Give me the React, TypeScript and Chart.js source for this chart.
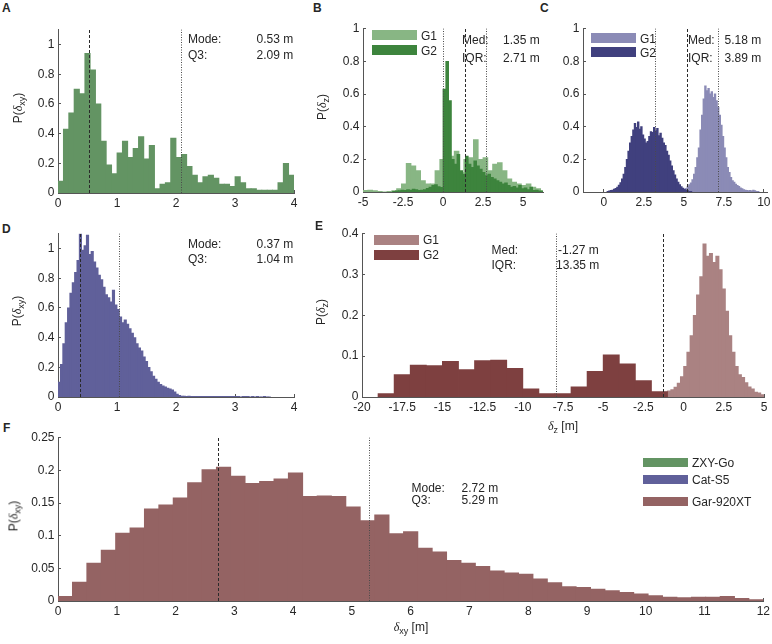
import React, { useEffect, useRef } from "react";
import { Chart, registerables } from "chart.js";

Chart.register(...registerables);

const FONT_FAMILY = "'Liberation Sans', Arial, Helvetica, sans-serif";
const TEXT_COLOR = "#262626";
const AXIS_COLOR = "#555555";

// ---------------- Panel A (ZXY-Go, horizontal error) ----------------
const A_BIN_START = 0;
const A_BIN_WIDTH = 4 / 44;
const A_VALUES = [
  0.08, 0.43, 0.54, 0.70, 0.67, 0.94, 0.83, 0.60, 0.35, 0.19, 0.13,
  0.27, 0.35, 0.24, 0.30, 0.38, 0.23, 0.32, 0.03, 0.06, 0.07, 0.37,
  0.24, 0.26, 0.18, 0.12, 0.07, 0.11, 0.12, 0.10, 0.06, 0.06, 0.045,
  0.11, 0.07, 0.03, 0.03, 0.02, 0.02, 0.02, 0.02, 0.07, 0.20, 0.12,
];
const A_X_TICKS = [0, 1, 2, 3, 4];
const A_Y_TICKS = [0, 0.2, 0.4, 0.6, 0.8, 1];
const A_MODE = 0.53;
const A_Q3 = 2.09;

// ---------------- Panel B (ZXY-Go, vertical error) ----------------
const B_G1_START = -5;
const B_G1_WIDTH = 0.3;
const B_G1_VALUES = [
  0.010, 0.012, 0.008, 0.003, 0.000, 0.002, 0.008, 0.020, 0.050, 0.175,
  0.160, 0.130, 0.070, 0.050, 0.050, 0.130, 0.200, 0.180, 0.220, 0.250,
  0.120, 0.200, 0.210, 0.320, 0.200, 0.210, 0.130, 0.170, 0.180, 0.130,
  0.080, 0.060, 0.050, 0.040, 0.050, 0.030, 0.020, 0.010,
];
const B_G2_START = -3.15;
const B_G2_WIDTH = 0.175;
const B_G2_VALUES = [
  0.004, 0.006, 0.008, 0.012, 0.010, 0.015, 0.012, 0.018, 0.014, 0.010,
  0.012, 0.015, 0.022, 0.030, 0.040, 0.045, 0.032, 0.028,
  0.630, 0.800, 0.560, 0.200, 0.170, 0.230, 0.130, 0.110, 0.220, 0.170,
  0.150, 0.190, 0.160, 0.140, 0.120, 0.100, 0.110, 0.090, 0.080, 0.070,
  0.060, 0.050, 0.055, 0.040, 0.030, 0.035, 0.025, 0.040, 0.020, 0.025,
  0.015, 0.030, 0.010, 0.012, 0.006, 0.004,
];
const B_X_TICKS = [-5, -2.5, 0, 2.5, 5];
const B_Y_TICKS = [0, 0.2, 0.4, 0.6, 0.8, 1];
const B_Q1 = 0.0;
const B_MED = 1.35;
const B_Q3 = 2.71;

// ---------------- Panel C (Cat-S5, vertical error) ----------------
const C_G1_START = 4.9;
const C_G1_WIDTH = 0.1;
const C_G1_VALUES = [
  0.004, 0.010, 0.020, 0.032, 0.045, 0.055, 0.075, 0.110, 0.150, 0.210,
  0.270, 0.380, 0.470, 0.570, 0.650, 0.620, 0.635, 0.600, 0.615, 0.580,
  0.600, 0.560, 0.520, 0.470, 0.410, 0.340, 0.270, 0.210, 0.150, 0.120,
  0.090, 0.070, 0.060, 0.048, 0.040, 0.034, 0.025, 0.020, 0.015, 0.012,
  0.010, 0.008, 0.010, 0.006, 0.012, 0.008, 0.004, 0.003,
];
const C_G2_START = 0.2;
const C_G2_WIDTH = 0.1;
const C_G2_VALUES = [
  0.003, 0.006, 0.010, 0.012, 0.018, 0.022, 0.030, 0.042, 0.058, 0.080,
  0.110, 0.150, 0.200, 0.250, 0.300, 0.340, 0.380, 0.420, 0.395, 0.430,
  0.385, 0.400, 0.350, 0.325, 0.300, 0.310, 0.340, 0.370, 0.365, 0.395,
  0.375, 0.390, 0.345, 0.360, 0.330, 0.300, 0.285, 0.250, 0.225, 0.190,
  0.160, 0.130, 0.105, 0.080, 0.060, 0.045, 0.032, 0.024, 0.018, 0.012,
  0.008, 0.004, 0.002,
];
const C_X_TICKS = [0, 2.5, 5, 7.5, 10];
const C_Y_TICKS = [0, 0.2, 0.4, 0.6, 0.8, 1];
const C_Q1 = 3.23;
const C_MED = 5.18;
const C_Q3 = 7.12;

// ---------------- Panel D (Cat-S5, horizontal error) ----------------
const D_BIN_START = 0;
const D_BIN_WIDTH = 0.04;
const D_VALUES = [
  0.10, 0.22, 0.36, 0.50, 0.60, 0.70, 0.77, 0.84, 0.92, 1.10,
  0.99, 1.02, 1.09, 0.96, 0.98, 0.91, 0.87, 0.82, 0.79, 0.74,
  0.69, 0.67, 0.64, 0.72, 0.62, 0.59, 0.54, 0.50, 0.52, 0.49,
  0.46, 0.43, 0.40, 0.36, 0.33, 0.31, 0.27, 0.24, 0.20, 0.17,
  0.14, 0.12, 0.10, 0.085, 0.075, 0.068, 0.060, 0.055, 0.048, 0.035,
  0.020, 0.010, 0.006, 0.005, 0.004, 0.005, 0.003, 0.004, 0.003, 0.003,
  0.002, 0.003, 0.002, 0.002, 0.001, 0.002, 0.003, 0.001, 0.002, 0.001,
  0.002, 0.001, 0.003, 0.001, 0.001, 0.002, 0.001, 0.000, 0.001, 0.002,
  0.001, 0.000, 0.001, 0.000, 0.001, 0.000, 0.000, 0.001, 0.000, 0.000,
];
const D_X_TICKS = [0, 1, 2, 3, 4];
const D_Y_TICKS = [0, 0.2, 0.4, 0.6, 0.8, 1];
const D_MODE = 0.37;
const D_Q3 = 1.04;

// ---------------- Panel E (Gar-920XT, vertical error) ----------------
const E_G1_START = -3.6;
const E_G1_WIDTH = 0.2;
const E_G1_VALUES = [
  0.003, 0.004, 0.005, 0.004, 0.006, 0.005, 0.007, 0.006, 0.007, 0.008,
  0.010, 0.011, 0.012, 0.015, 0.018, 0.024, 0.034, 0.050, 0.075, 0.110,
  0.150, 0.200, 0.250, 0.295, 0.375, 0.345, 0.352, 0.330, 0.345, 0.312,
  0.265, 0.210, 0.150, 0.110, 0.075, 0.055, 0.048, 0.035, 0.025, 0.020,
  0.012, 0.010, 0.006,
];
const E_G2_START = -19;
const E_G2_WIDTH = 1;
const E_G2_VALUES = [
  0.008, 0.055, 0.078, 0.077, 0.087, 0.067, 0.089, 0.090, 0.070, 0.020,
  0.008, 0.008, 0.025, 0.063, 0.103, 0.081, 0.040, 0.013,
];
const E_X_TICKS = [-20, -17.5, -15, -12.5, -10, -7.5, -5, -2.5, 0, 2.5, 5];
const E_Y_TICKS = [0, 0.1, 0.2, 0.3, 0.4];
const E_Q1 = -7.94;
const E_MED = -1.27;

// ---------------- Panel F (Gar-920XT, horizontal error) ----------------
const F_BIN_START = 0;
const F_BIN_WIDTH = 12 / 49;
const F_VALUES = [
  0.007, 0.029, 0.058, 0.078, 0.104, 0.112, 0.141, 0.147, 0.158, 0.181,
  0.201, 0.205, 0.191, 0.180, 0.183, 0.187, 0.196, 0.160, 0.161, 0.160,
  0.144, 0.123, 0.132, 0.103, 0.106, 0.081, 0.075, 0.062, 0.058, 0.053,
  0.046, 0.043, 0.041, 0.034, 0.028, 0.022, 0.021, 0.018, 0.016, 0.013,
  0.011, 0.008, 0.006, 0.005, 0.006, 0.006, 0.007, 0.004, 0.002,
];
const F_X_TICKS = [0, 1, 2, 3, 4, 5, 6, 7, 8, 9, 10, 11, 12];
const F_Y_TICKS = [0, 0.05, 0.1, 0.15, 0.2, 0.25];
const F_MODE = 2.72;
const F_Q3 = 5.29;

// ---------------- colours ----------------
const GREEN = "#639463";
const GREEN_G1 = "#88b684";
const GREEN_G2 = "#3d843d";
const BLUE = "#60609a";
const BLUE_G1 = "#8b8bb6";
const BLUE_G2 = "#40407e";
const RED = "#946363";
const RED_G1 = "#aa8282";
const RED_G2 = "#7e4040";

type Series = { start: number; width: number; values: number[]; color: string; axisId: string; order: number };
type VLine = { x: number; style: "dash" | "dot" };
type PanelSpec = {
  left: number; top: number; right: number; bottom: number;
  xMin: number; xMax: number; yMax: number;
  xTicks: number[]; yTicks: number[];
  series: Series[]; vlines: VLine[];
};

const PANELS: PanelSpec[] = [
  {
    left: 58, top: 24, right: 294, bottom: 193, xMin: 0, xMax: 4, yMax: 1.1,
    xTicks: A_X_TICKS, yTicks: A_Y_TICKS,
    series: [{ start: A_BIN_START, width: A_BIN_WIDTH, values: A_VALUES, color: GREEN, axisId: "x", order: 0 }],
    vlines: [{ x: A_MODE, style: "dash" }, { x: A_Q3, style: "dot" }],
  },
  {
    left: 363, top: 23, right: 543, bottom: 192, xMin: -5, xMax: 6.25, yMax: 1,
    xTicks: B_X_TICKS, yTicks: B_Y_TICKS,
    series: [
      { start: B_G2_START, width: B_G2_WIDTH, values: B_G2_VALUES, color: GREEN_G2, axisId: "x", order: 0 },
      { start: B_G1_START, width: B_G1_WIDTH, values: B_G1_VALUES, color: GREEN_G1, axisId: "x2", order: 1 },
    ],
    vlines: [{ x: B_Q1, style: "dot" }, { x: B_MED, style: "dash" }, { x: B_Q3, style: "dot" }],
  },
  {
    left: 583, top: 23, right: 767, bottom: 192, xMin: -1.3, xMax: 10.2, yMax: 1,
    xTicks: C_X_TICKS, yTicks: C_Y_TICKS,
    series: [
      { start: C_G2_START, width: C_G2_WIDTH, values: C_G2_VALUES, color: BLUE_G2, axisId: "x", order: 0 },
      { start: C_G1_START, width: C_G1_WIDTH, values: C_G1_VALUES, color: BLUE_G1, axisId: "x2", order: 1 },
    ],
    vlines: [{ x: C_Q1, style: "dot" }, { x: C_MED, style: "dash" }, { x: C_Q3, style: "dot" }],
  },
  {
    left: 58, top: 228, right: 294, bottom: 397, xMin: 0, xMax: 4, yMax: 1.1,
    xTicks: D_X_TICKS, yTicks: D_Y_TICKS,
    series: [{ start: D_BIN_START, width: D_BIN_WIDTH, values: D_VALUES, color: BLUE, axisId: "x", order: 0 }],
    vlines: [{ x: D_MODE, style: "dash" }, { x: D_Q3, style: "dot" }],
  },
  {
    left: 362, top: 228, right: 764, bottom: 397, xMin: -20, xMax: 5, yMax: 0.4,
    xTicks: E_X_TICKS, yTicks: E_Y_TICKS,
    series: [
      { start: E_G2_START, width: E_G2_WIDTH, values: E_G2_VALUES, color: RED_G2, axisId: "x2", order: 0 },
      { start: E_G1_START, width: E_G1_WIDTH, values: E_G1_VALUES, color: RED_G1, axisId: "x", order: 1 },
    ],
    vlines: [{ x: E_Q1, style: "dot" }, { x: E_MED, style: "dash" }],
  },
  {
    left: 58, top: 432, right: 764, bottom: 601, xMin: 0, xMax: 12, yMax: 0.25,
    xTicks: F_X_TICKS, yTicks: F_Y_TICKS,
    series: [{ start: F_BIN_START, width: F_BIN_WIDTH, values: F_VALUES, color: RED, axisId: "x", order: 0 }],
    vlines: [{ x: F_MODE, style: "dash" }, { x: F_Q3, style: "dot" }],
  },
];

const PAD_L = 46;
const PAD_T = 8;
const PAD_R = 12;
const PAD_B = 24;

const round6 = (v: number) => Math.round(v * 1e6) / 1e6;

function HistChart({ spec }: { spec: PanelSpec }) {
  const ref = useRef<HTMLCanvasElement | null>(null);
  const w = spec.right - spec.left + PAD_L + PAD_R;
  const h = spec.bottom - spec.top + PAD_T + PAD_B;

  useEffect(() => {
    if (!ref.current) return;
    const datasets = spec.series.map((s) => ({
      type: "bar" as const,
      data: s.values.map((v, k) => ({ x: round6(s.start + (k + 0.5) * s.width), y: v })),
      backgroundColor: s.color,
      borderWidth: 0,
      barPercentage: 1,
      categoryPercentage: 1,
      grouped: false,
      inflateAmount: 0.4,
      xAxisID: s.axisId,
      order: s.order,
    }));
    const setTicks = (vals: number[]) => (scale: any) => {
      scale.ticks = vals.map((v) => ({ value: v }));
    };
    const tickFont = { family: FONT_FAMILY, size: 12 };
    const scales: any = {
      x: {
        type: "linear",
        position: "bottom",
        min: spec.xMin,
        max: spec.xMax,
        offset: false,
        grid: {
          offset: false, drawOnChartArea: false, drawTicks: true, tickLength: -3,
          color: AXIS_COLOR, tickColor: AXIS_COLOR, lineWidth: 1,
        },
        border: { display: true, color: AXIS_COLOR, width: 1 },
        ticks: {
          font: tickFont, color: TEXT_COLOR, padding: 6, maxRotation: 0, autoSkip: false,
          callback: (v: any) => String(v),
        },
        afterBuildTicks: setTicks(spec.xTicks),
        afterFit: (s: any) => { s.height = PAD_B; },
      },
      y: {
        type: "linear",
        position: "left",
        min: 0,
        max: spec.yMax,
        grid: {
          drawOnChartArea: false, drawTicks: true, tickLength: -3,
          color: AXIS_COLOR, tickColor: AXIS_COLOR, lineWidth: 1,
        },
        border: { display: true, color: AXIS_COLOR, width: 1 },
        ticks: {
          font: tickFont, color: TEXT_COLOR, padding: 6.5, autoSkip: false,
          callback: (v: any) => String(v),
        },
        afterBuildTicks: setTicks(spec.yTicks),
        afterFit: (s: any) => { s.width = PAD_L; },
      },
    };
    if (spec.series.some((s) => s.axisId === "x2")) {
      scales.x2 = {
        type: "linear",
        display: false,
        min: spec.xMin,
        max: spec.xMax,
        offset: false,
        grid: { offset: false },
        afterBuildTicks: setTicks(spec.xTicks),
      };
    }
    const vlinePlugin = {
      id: "vlines",
      afterDatasetsDraw(chart: any) {
        const { ctx, scales: sc } = chart;
        const xs = sc.x;
        const ys = sc.y;
        ctx.save();
        ctx.lineWidth = 1;
        for (const l of spec.vlines) {
          const px = Math.round(xs.getPixelForValue(l.x)) + 0.5;
          ctx.beginPath();
          ctx.setLineDash(l.style === "dash" ? [3, 2] : [1, 1.5]);
          ctx.strokeStyle = l.style === "dash" ? "#2a2a2a" : "#4a4a4a";
          ctx.moveTo(px, ys.getPixelForValue(0));
          ctx.lineTo(px, ys.getPixelForValue(spec.yMax));
          ctx.stroke();
        }
        ctx.restore();
      },
    };
    const chart = new Chart(ref.current, {
      type: "bar",
      data: { datasets: datasets as any },
      options: {
        responsive: false,
        animation: false,
        events: [],
        devicePixelRatio: 1,
        layout: { padding: { left: 0, top: PAD_T, right: PAD_R, bottom: 0 } },
        plugins: { legend: { display: false }, tooltip: { enabled: false }, title: { display: false } },
        scales,
      } as any,
      plugins: [vlinePlugin],
    });
    return () => chart.destroy();
  }, []);

  return (
    <canvas
      ref={ref}
      width={w}
      height={h}
      style={{ position: "absolute", left: spec.left - PAD_L, top: spec.top - PAD_T, width: w, height: h }}
    />
  );
}

function T({ x, cy, children, bold, size }: { x: number; cy: number; children: any; bold?: boolean; size?: number }) {
  return (
    <div
      style={{
        position: "absolute", left: x, top: cy - 7, lineHeight: "14px", height: 14,
        fontSize: size ?? 12, fontWeight: bold ? "bold" : "normal", whiteSpace: "nowrap",
      }}
    >
      {children}
    </div>
  );
}

function Delta() {
  return <span style={{ fontStyle: "italic", fontFamily: "'Liberation Serif', 'DejaVu Serif', serif", fontSize: 12 }}>δ</span>;
}

function Sub({ children }: { children: any }) {
  return <span style={{ fontSize: 9, position: "relative", top: 3 }}>{children}</span>;
}

function YLabel({ cx, cy, sub }: { cx: number; cy: number; sub: string }) {
  return (
    <div
      style={{
        position: "absolute", left: cx, top: cy, transform: "translate(-50%, -50%) rotate(-90deg)",
        whiteSpace: "nowrap", lineHeight: "14px", fontSize: 12,
      }}
    >
      P(<Delta />
      <Sub>{sub}</Sub>)
    </div>
  );
}

function XLabel({ cx, cy, sub }: { cx: number; cy: number; sub: string }) {
  return (
    <div
      style={{
        position: "absolute", left: cx, top: cy, transform: "translate(-50%, -50%)",
        whiteSpace: "nowrap", lineHeight: "14px", fontSize: 12,
      }}
    >
      <Delta />
      <Sub>{sub}</Sub> [m]
    </div>
  );
}

function Swatch({ x, y, w, h, color }: { x: number; y: number; w: number; h: number; color: string }) {
  return <div style={{ position: "absolute", left: x, top: y, width: w, height: h, background: color }} />;
}

export default function App() {
  return (
    <div
      style={{
        position: "absolute", left: 0, top: 0, width: 772, height: 644, overflow: "hidden",
        background: "#ffffff", fontFamily: FONT_FAMILY, fontSize: 12, color: TEXT_COLOR,
      }}
    >
      {PANELS.map((p, i) => (
        <HistChart key={i} spec={p} />
      ))}

      {/* panel letters */}
      <T x={2} cy={7.5} bold size={12}>A</T>
      <T x={313} cy={7.5} bold size={12}>B</T>
      <T x={540} cy={7.5} bold size={12}>C</T>
      <T x={2} cy={229} bold size={12}>D</T>
      <T x={315} cy={225.5} bold size={12}>E</T>
      <T x={3} cy={427.5} bold size={12}>F</T>

      {/* axis labels */}
      <YLabel cx={18} cy={108} sub="xy" />
      <YLabel cx={322} cy={107} sub="z" />
      <YLabel cx={17} cy={311} sub="xy" />
      <YLabel cx={321} cy={312} sub="z" />
      <YLabel cx={14} cy={516} sub="xy" />
      <XLabel cx={563} cy={426} sub="z" />
      <XLabel cx={411} cy={627} sub="xy" />

      {/* stats A */}
      <T x={188} cy={39}>Mode:</T>
      <T x={256.5} cy={39}>0.53 m</T>
      <T x={188} cy={55}>Q3:</T>
      <T x={256.5} cy={55}>2.09 m</T>
      {/* stats B */}
      <T x={462} cy={40}>Med:</T>
      <T x={503} cy={40}>1.35 m</T>
      <T x={462} cy={57.5}>IQR:</T>
      <T x={503} cy={57.5}>2.71 m</T>
      {/* stats C */}
      <T x={688} cy={40}>Med:</T>
      <T x={724.5} cy={40}>5.18 m</T>
      <T x={688} cy={57.5}>IQR:</T>
      <T x={724.5} cy={57.5}>3.89 m</T>
      {/* stats D */}
      <T x={188} cy={243.5}>Mode:</T>
      <T x={256.5} cy={243.5}>0.37 m</T>
      <T x={188} cy={258.5}>Q3:</T>
      <T x={256.5} cy={258.5}>1.04 m</T>
      {/* stats E */}
      <T x={491.5} cy={250}>Med:</T>
      <T x={558} cy={250}>-1.27 m</T>
      <T x={491.5} cy={265}>IQR:</T>
      <T x={556} cy={265}>13.35 m</T>
      {/* stats F */}
      <T x={411.5} cy={487.5}>Mode:</T>
      <T x={461.5} cy={487.5}>2.72 m</T>
      <T x={411.5} cy={499.5}>Q3:</T>
      <T x={461.5} cy={499.5}>5.29 m</T>

      {/* legend B */}
      <Swatch x={372} y={30} w={45} h={10} color={GREEN_G1} />
      <Swatch x={372} y={45} w={45} h={10} color={GREEN_G2} />
      <T x={421} cy={36}>G1</T>
      <T x={421} cy={51}>G2</T>
      {/* legend C */}
      <Swatch x={591} y={33} w={45} h={10} color={BLUE_G1} />
      <Swatch x={591} y={47} w={45} h={10} color={BLUE_G2} />
      <T x={640} cy={38.5}>G1</T>
      <T x={640} cy={52.5}>G2</T>
      {/* legend E */}
      <Swatch x={374} y={235} w={45} h={10} color={RED_G1} />
      <Swatch x={374} y={250} w={45} h={10} color={RED_G2} />
      <T x={423} cy={240}>G1</T>
      <T x={423} cy={255}>G2</T>
      {/* legend F */}
      <Swatch x={643} y={458} w={45} h={9} color={GREEN} />
      <Swatch x={643} y={475} w={45} h={9} color={BLUE} />
      <Swatch x={643} y={497} w={45} h={9} color={RED} />
      <T x={692} cy={462.5}>ZXY-Go</T>
      <T x={692} cy={479.5}>Cat-S5</T>
      <T x={692} cy={501.5}>Gar-920XT</T>
    </div>
  );
}
